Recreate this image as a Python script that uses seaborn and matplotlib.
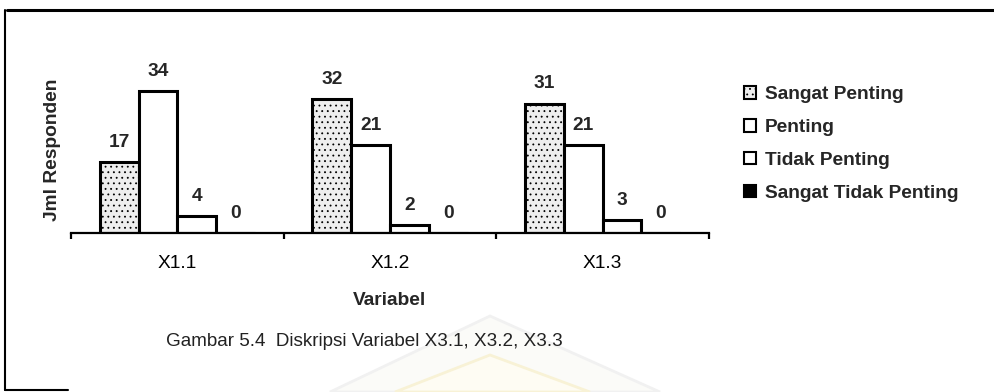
import matplotlib
matplotlib.use("Agg")
import matplotlib.pyplot as plt
import seaborn as sns
import pandas as pd
from matplotlib.lines import Line2D
from matplotlib.patches import Patch, Polygon

categories = ["X1.1", "X1.2", "X1.3"]
series = ["Sangat Penting", "Penting", "Tidak Penting", "Sangat Tidak Penting"]
sangat_penting = [17, 32, 31]
penting = [34, 21, 21]
tidak_penting = [4, 2, 3]
sangat_tidak_penting = [0, 0, 0]

values = [sangat_penting, penting, tidak_penting, sangat_tidak_penting]
rows = []
for s, vals in zip(series, values):
    for c, v in zip(categories, vals):
        rows.append({"Variabel": c, "Kategori": s, "Jumlah": v})
df = pd.DataFrame(rows)

sns.set_theme(style="white")
plt.rcParams['font.family'] = ['Liberation Sans', 'DejaVu Sans']
plt.rcParams['hatch.color'] = '#c4c4c4'
plt.rcParams['hatch.linewidth'] = 0.6

fills = ["#eeeeee", "white", "white", "black"]
palette = dict(zip(series, fills))

FS = 13.8
W, H = 995, 392
fig = plt.figure(figsize=(W / 100, H / 100), dpi=100)

# faint watermark shape (background decoration)
def fpt(x, y):
    return (x / W, 1 - y / H)
outer = Polygon([fpt(330, 392), fpt(490, 316), fpt(660, 392)], closed=True,
                transform=fig.transFigure, facecolor="#fbfbf8", edgecolor="#f1f1f1",
                lw=2, zorder=-5)
inner = Polygon([fpt(395, 392), fpt(490, 355), fpt(590, 392)], closed=True,
                transform=fig.transFigure, facecolor="#fefcf3", edgecolor="#f8f2d6",
                lw=2, zorder=-4)
fig.add_artist(outer)
fig.add_artist(inner)

ax = fig.add_axes([71 / W, (H - 233) / H, 638 / W, 167 / H])
ax.patch.set_alpha(0)

sns.barplot(data=df, x="Variabel", y="Jumlah", hue="Kategori", order=categories,
            hue_order=series, palette=palette, width=0.73, dodge=True,
            edgecolor="black", linewidth=2.2, saturation=1, legend=False, ax=ax)

for container, name in zip(ax.containers, series):
    for p in container:
        p.set_facecolor(palette[name])
        p.set_edgecolor("black")
        p.set_linewidth(2.2)
        if name == "Sangat Penting":
            p.set_hatch("...")
    ax.bar_label(container, fmt="%d", padding=8, fontsize=FS, fontweight="bold")

ax.set_ylim(0, 40)
ax.set_xlim(-0.5, 2.5)
ax.set_yticks([])
for sp in ["left", "top", "right"]:
    ax.spines[sp].set_visible(False)
ax.spines["bottom"].set_color("black")
ax.spines["bottom"].set_linewidth(1.6)

ax.set_xticks(range(len(categories)))
ax.set_xticklabels(categories, fontsize=FS)
ax.tick_params(axis="x", which="major", length=0, pad=16, colors="black")
ax.set_xticks([-0.5, 0.5, 1.5, 2.5], minor=True)
ax.tick_params(axis="x", which="minor", length=4, width=1.6, direction="out",
               color="black", bottom=True)

ax.set_xlabel("Variabel", fontsize=FS, fontweight="bold", labelpad=14)
ax.set_ylabel("Jml Responden", fontsize=FS, fontweight="bold", labelpad=7)

handles = []
for name in series:
    h = Patch(facecolor=palette[name], edgecolor="black", linewidth=1.5,
              hatch="..." if name == "Sangat Penting" else None)
    handles.append(h)
fig.legend(handles, series, loc="upper left",
           bbox_to_anchor=(744 / W, 1 - 86 / H), frameon=False,
           prop={"size": FS, "weight": "bold"}, handlelength=0.65,
           handleheight=0.65, handletextpad=0.45, labelspacing=0.82,
           borderpad=0, borderaxespad=0)

fig.text(166 / W, 1 - 341 / H, "Gambar 5.4  Diskripsi Variabel X3.1, X3.2, X3.3",
         ha="left", va="center", fontsize=13.6, color="#222222")

# frame lines
fig.add_artist(Line2D([7 / W, 1.0], [1 - 10 / H, 1 - 10 / H], color="black", lw=2.2))
fig.add_artist(Line2D([5 / W, 5 / W], [1 - 10 / H, 1 - 390 / H], color="black", lw=1.5))
fig.add_artist(Line2D([5 / W, 68 / W], [1 - 390 / H, 1 - 390 / H], color="black", lw=1.5))

fig.savefig("out.png", dpi=100)
